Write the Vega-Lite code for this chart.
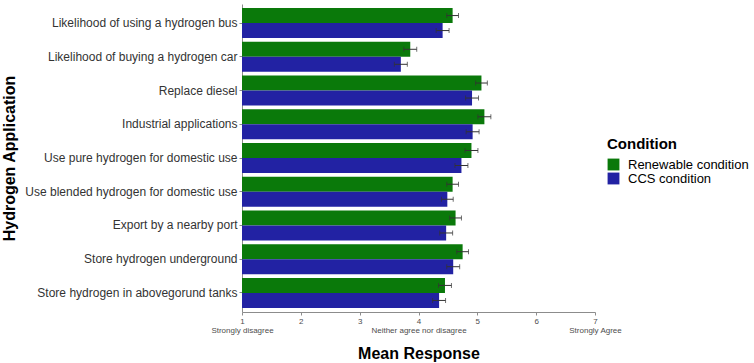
{
  "$schema": "https://vega.github.io/schema/vega-lite/v6.json",
  "width": 353,
  "height": 308,
  "autosize": {"type": "none"},
  "padding": {"left": 242, "top": 4, "right": 159, "bottom": 51},
  "background": "white",
  "config": {
    "font": "Liberation Sans",
    "view": {"stroke": null},
    "axis": {"grid": false, "domainColor": "#8c8c8c", "tickColor": "#8c8c8c", "tickSize": 3}
  },
  "data": {
    "values": [
      {"application": "Likelihood of using a hydrogen bus", "condition": "Renewable condition", "mean": 4.58, "lo": 4.48, "hi": 4.68},
      {"application": "Likelihood of using a hydrogen bus", "condition": "CCS condition", "mean": 4.41, "lo": 4.30, "hi": 4.52},
      {"application": "Likelihood of buying a hydrogen car", "condition": "Renewable condition", "mean": 3.86, "lo": 3.75, "hi": 3.97},
      {"application": "Likelihood of buying a hydrogen car", "condition": "CCS condition", "mean": 3.70, "lo": 3.59, "hi": 3.81},
      {"application": "Replace diesel", "condition": "Renewable condition", "mean": 5.07, "lo": 4.97, "hi": 5.17},
      {"application": "Replace diesel", "condition": "CCS condition", "mean": 4.91, "lo": 4.80, "hi": 5.02},
      {"application": "Industrial applications", "condition": "Renewable condition", "mean": 5.12, "lo": 5.01, "hi": 5.23},
      {"application": "Industrial applications", "condition": "CCS condition", "mean": 4.92, "lo": 4.81, "hi": 5.03},
      {"application": "Use pure hydrogen for domestic use", "condition": "Renewable condition", "mean": 4.90, "lo": 4.79, "hi": 5.01},
      {"application": "Use pure hydrogen for domestic use", "condition": "CCS condition", "mean": 4.73, "lo": 4.62, "hi": 4.84},
      {"application": "Use blended hydrogen for domestic use", "condition": "Renewable condition", "mean": 4.58, "lo": 4.48, "hi": 4.68},
      {"application": "Use blended hydrogen for domestic use", "condition": "CCS condition", "mean": 4.49, "lo": 4.39, "hi": 4.59},
      {"application": "Export by a nearby port", "condition": "Renewable condition", "mean": 4.63, "lo": 4.53, "hi": 4.73},
      {"application": "Export by a nearby port", "condition": "CCS condition", "mean": 4.47, "lo": 4.36, "hi": 4.58},
      {"application": "Store hydrogen underground", "condition": "Renewable condition", "mean": 4.75, "lo": 4.65, "hi": 4.85},
      {"application": "Store hydrogen underground", "condition": "CCS condition", "mean": 4.59, "lo": 4.48, "hi": 4.70},
      {"application": "Store hydrogen in abovegorund tanks", "condition": "Renewable condition", "mean": 4.45, "lo": 4.34, "hi": 4.56},
      {"application": "Store hydrogen in abovegorund tanks", "condition": "CCS condition", "mean": 4.35, "lo": 4.24, "hi": 4.46}
    ]
  },
  "encoding": {
    "y": {
      "field": "application",
      "type": "nominal",
      "sort": null,
      "scale": {"paddingInner": 0.11, "paddingOuter": 0.12},
      "axis": {
        "title": "Hydrogen Application",
        "titleFontSize": 16,
        "titleFontWeight": "bold",
        "titleColor": "#000000",
        "titleX": -227.5,
        "titleBaseline": "alphabetic",
        "labelFontSize": 12,
        "labelColor": "#333333",
        "labelPadding": 2,
        "labelLimit": 300
      }
    },
    "yOffset": {
      "field": "condition",
      "type": "nominal",
      "sort": ["Renewable condition", "CCS condition"],
      "scale": {"paddingInner": 0, "paddingOuter": 0}
    }
  },
  "layer": [
    {
      "mark": {"type": "bar"},
      "encoding": {
        "x": {
          "field": "mean",
          "type": "quantitative",
          "scale": {"domain": [1, 7], "nice": false, "zero": false},
          "axis": {
            "title": "Mean Response",
            "titleFontSize": 16,
            "titleFontWeight": "bold",
            "titleColor": "#000000",
            "titleY": 46,
            "titleBaseline": "alphabetic",
            "values": [1, 2, 3, 4, 5, 6, 7],
            "format": "d",
            "labelOverlap": false,
            "labelFlush": false,
            "labelFontSize": 8,
            "labelColor": "#4d4d4d",
            "labelLineHeight": 9,
            "labelPadding": 2,
            "labelExpr": "datum.value == 1 ? ['1', 'Strongly disagree'] : datum.value == 4 ? ['4', 'Neither agree nor disagree'] : datum.value == 7 ? ['7', 'Strongly Agree'] : datum.label"
          }
        },
        "x2": {"datum": 1},
        "color": {
          "field": "condition",
          "type": "nominal",
          "scale": {"domain": ["Renewable condition", "CCS condition"], "range": ["#0a790a", "#2222a3"]},
          "legend": {
            "title": "Condition",
            "orient": "none",
            "legendX": 365,
            "legendY": 133,
            "titleFontSize": 15,
            "titleFontWeight": "bold",
            "titleColor": "#000000",
            "titlePadding": 6,
            "labelFontSize": 13,
            "labelColor": "#000000",
            "symbolType": "square",
            "symbolSize": 140,
            "symbolStrokeWidth": 0,
            "rowPadding": 0,
            "labelOffset": 8
          }
        }
      }
    },
    {
      "mark": {"type": "rule", "color": "#333333", "strokeWidth": 1},
      "encoding": {
        "x": {"field": "lo", "type": "quantitative"},
        "x2": {"field": "hi"}
      }
    },
    {
      "mark": {"type": "tick", "color": "#333333", "thickness": 1, "size": 5, "orient": "vertical"},
      "encoding": {
        "x": {"field": "lo", "type": "quantitative"}
      }
    },
    {
      "mark": {"type": "tick", "color": "#333333", "thickness": 1, "size": 5, "orient": "vertical"},
      "encoding": {
        "x": {"field": "hi", "type": "quantitative"}
      }
    }
  ]
}
